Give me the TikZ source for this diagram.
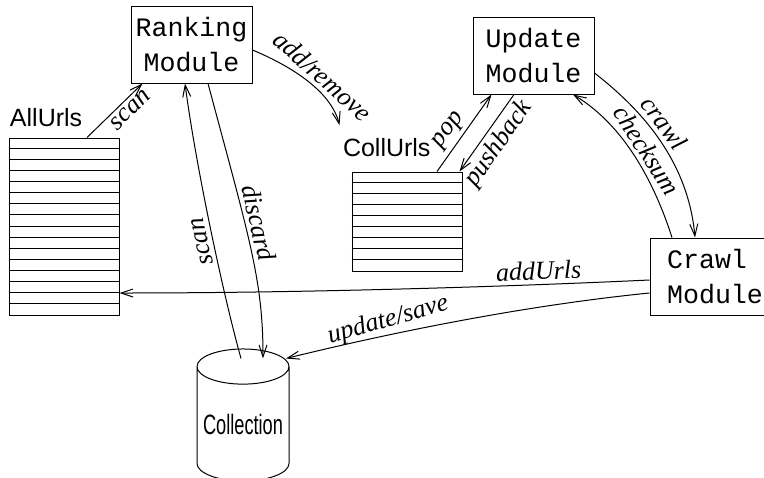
\documentclass[tikz,border=0pt]{standalone}
\usepackage{fontspec}
\usepackage{graphicx}
\setmainfont{Liberation Serif}
\setsansfont{Liberation Sans}
\setmonofont{Liberation Mono}
\usetikzlibrary{positioning,shapes.geometric,arrows.meta}

\newcommand{\modfont}{\ttfamily\fontsize{13.3}{17.5}\selectfont}
\newcommand{\listfont}{\sffamily\fontsize{12.5}{15}\selectfont}
\newcommand{\edgefont}{\itshape\fontsize{13}{15}\selectfont}

\begin{document}
\begin{tikzpicture}[
            x=0.5pt, y=-0.5pt, line width=0.5pt,
            module/.style={rectangle, draw, minimum width=60.5pt, minimum height=38.5pt, inner sep=0pt, align=center, font=\modfont},
            urllist/.style={rectangle, draw, minimum width=55pt, inner sep=0pt},
            listlabel/.style={inner sep=0pt, font=\listfont},
            arrow/.style={-{Straight Barb[length=6pt,width=4pt]}},
            edgelabel/.style={font=\edgefont, sloped, inner sep=2pt}
        ]
            \useasboundingbox (0,0) rectangle (764,477);

            % Module boxes
            \node[module] (ranking) at (191.5,44.5) {Ranking\\Module};
            \node[module] (update) at (533.5,55.5) {Update\\Module};
            \node[module, align=left, minimum width=65pt] (crawl) at (715,276.5) {Crawl\\Module};

            % Url lists
            \node[urllist, minimum height=88.5pt] (allurls) at (64,226.5) {};
            \foreach \row in {1,...,15}
                \draw ([yshift=-\row*5.53125pt]allurls.north west) -- ([yshift=-\row*5.53125pt]allurls.north east);
            \node[urllist, minimum height=49.5pt] (collurls) at (407,221.5) {};
            \foreach \row in {1,...,8}
                \draw ([yshift=-\row*5.5pt]collurls.north west) -- ([yshift=-\row*5.5pt]collurls.north east);
            \node[listlabel, above right=5pt and 0.5pt of allurls.north west] (allurlslabel) {AllUrls};
            \node[listlabel, above right=7pt and -4.5pt of collurls.north west] (collurlslabel) {CollUrls};

            % Collection store
            \node[cylinder, draw, shape border rotate=90, aspect=0.44, minimum width=46pt, minimum height=66pt, inner sep=0pt, font=\sffamily\fontsize{14}{16}\selectfont] (collection) at (243,424) {\scalebox{0.65}[1]{Collection}};

            % Arrows
            \draw[arrow] ([xshift=11.5pt]allurls.north) -- ([xshift=6pt]ranking.south west) node[edgelabel, pos=0.65, below] {scan};
            \draw[arrow] ([yshift=-2.75pt]ranking.east) .. controls +(43,18) and +(-8,-32) .. ([xshift=-1.5pt,yshift=6.5pt]collurlslabel.north west) node[edgelabel, pos=0.55, above] {add/remove};
            \draw[arrow] ([xshift=15pt]collurls.north) -- ([xshift=9.5pt]update.south west) node[edgelabel, pos=0.43, above] {pop};
            \draw[arrow] ([xshift=-9.75pt]update.south) -- ([xshift=-1.5pt]collurls.north east) node[edgelabel, pos=0.52, below] {pushback};
            \draw[arrow] ([yshift=-8.75pt]update.east) .. controls +(45,35) and +(-7,-78) .. ([xshift=-10pt]crawl.north) node[edgelabel, pos=0.45, above] {crawl};
            \draw[arrow] ([xshift=-21.5pt]crawl.north) .. controls +(-17,-53) and +(52,31) .. ([xshift=19.75pt]update.south) node[edgelabel, pos=0.5, above] {checksum};
            \draw[arrow] ([yshift=-1.75pt]crawl.west) .. controls +(-150,7) and +(181,0) .. ([yshift=-33.25pt]allurls.east) node[edgelabel, pos=0.23, above] {addUrls};
            \draw[arrow] ([yshift=-8.25pt]crawl.west) .. controls +(-120,12) and +(114,-28) .. ([xshift=21.5pt,yshift=-5pt]collection.top) node[edgelabel, pos=0.7, above, rotate=4, inner sep=1pt] {update/save};
            \draw[arrow] ([xshift=-1pt,yshift=-5pt]collection.top) .. controls +(-19,-68) and +(10,77) .. ([xshift=-3.25pt]ranking.south) node[edgelabel, pos=0.45, above, allow upside down] {scan};
            \draw[arrow] ([xshift=8.25pt]ranking.south) .. controls +(42,157) and +(0,-78) .. ([xshift=10pt,yshift=-5pt]collection.top) node[edgelabel, pos=0.4, above] {discard};

        \end{tikzpicture}
\end{document}
